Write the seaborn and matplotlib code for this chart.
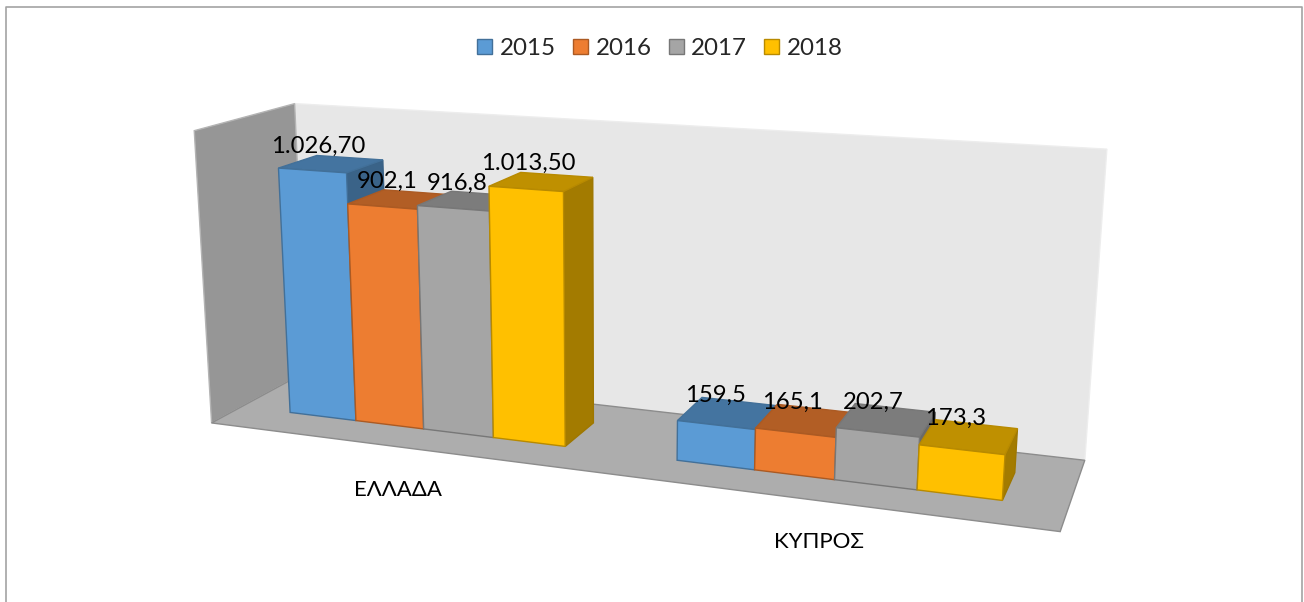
# 3D-looking clustered columns (Excel style), drawn with seaborn through a perspective transform
import numpy as np
import pandas as pd
import matplotlib
matplotlib.use('Agg')
import matplotlib.pyplot as plt
import seaborn as sns
from matplotlib.colors import to_rgb
from matplotlib.lines import Line2D
from matplotlib.patches import Polygon
from matplotlib.transforms import Affine2D, Transform

# ── DATA ──────────────────────────────────────────────────────────────────────
regions = ['ΕΛΛΑΔΑ', 'ΚΥΠΡΟΣ']
years = ['2015', '2016', '2017', '2018']
greece = [1026.7, 902.1, 916.8, 1013.5]
cyprus = [159.5, 165.1, 202.7, 173.3]
greece_labels = ['1.026,70', '902,1', '916,8', '1.013,50']
cyprus_labels = ['159,5', '165,1', '202,7', '173,3']
colors = ['#5B9BD5', '#ED7D31', '#A5A5A5', '#FFC000']

# ── GEOMETRY / STYLE ──────────────────────────────────────────────────────────
W, H = 1304, 602
AXIS_MAX = 1200
BAR_WIDTH = 4 / 5.5          # gap width 150%
DEPTH_FRONT, DEPTH_BACK = 0.3, 0.7
LABEL_OFFSET = (-13, -18)
half = BAR_WIDTH / 2

# camera calibration: chart box corners and bar corners (world x, depth, z) -> picture px
calibration = [
    ((-0.5, 0, 0), (213, 423)), ((1.5, 0, 0), (1061, 532)),
    ((1.5, 1, 0), (1085, 459)), ((-0.5, 1, 0), (302, 371)),
    ((-0.5, 0, 1), (192, 130)), ((-0.5, 1, 1), (298, 105)), ((1.5, 1, 1), (1107, 148)),
    ((-half, DEPTH_FRONT, 0), (292, 412)), ((half, DEPTH_FRONT, 0), (566, 446)),
    ((1 - half, DEPTH_FRONT, 0), (677, 459)), ((1 + half, DEPTH_FRONT, 0), (1002, 500)),
    ((half, DEPTH_BACK, 0), (596, 423)), ((1 + half, DEPTH_BACK, 0), (1014, 475)),
    ((-half, DEPTH_FRONT, greece[0] / AXIS_MAX), (278, 168)),
    ((half, DEPTH_FRONT, greece[3] / AXIS_MAX), (562, 192)),
    ((half, DEPTH_BACK, greece[3] / AXIS_MAX), (593, 177)),
    ((1 - half, DEPTH_FRONT, cyprus[0] / AXIS_MAX), (677, 422)),
    ((1 + half, DEPTH_FRONT, cyprus[3] / AXIS_MAX), (1004, 455)),
]


def fit_camera(pairs):
    """Least squares fit of a 3x4 projection matrix."""
    rows, rhs = [], []
    for (x, y, z), (u, v) in pairs:
        rows.append([x, y, z, 1, 0, 0, 0, 0, -u * x, -u * y, -u * z])
        rows.append([0, 0, 0, 0, x, y, z, 1, -v * x, -v * y, -v * z])
        rhs += [u, v]
    p = np.linalg.lstsq(np.array(rows, float), np.array(rhs, float), rcond=None)[0]
    return np.append(p, 1).reshape(3, 4)


CAMERA = fit_camera(calibration)


def project(x, depth, value):
    """World position (category x, depth, value) to picture pixels."""
    pts = np.column_stack([x, depth, np.asarray(value) / AXIS_MAX, np.ones_like(x)])
    out = pts @ CAMERA.T
    return out[:, :2] / out[:, 2:3]


class FrontPlane(Transform):
    """Maps the bars' (x, value) data onto their front plane in the picture."""
    input_dims = 2
    output_dims = 2
    is_affine = False
    has_inverse = False

    def transform_non_affine(self, values):
        values = np.asarray(values, float)
        return project(values[:, 0], np.full(len(values), DEPTH_FRONT), values[:, 1])


def shade(color, factor):
    return tuple(c * factor for c in to_rgb(color))


# ── BARS ──────────────────────────────────────────────────────────────────────
df = pd.DataFrame({
    'region': np.repeat(regions, len(years)),
    'year': years * len(regions),
    'value': greece + cyprus,
    'label': greece_labels + cyprus_labels,
})

sns.set_theme(style='white')
plt.rcParams['font.family'] = ['Lato', 'Open Sans', 'DejaVu Sans']

fig = plt.figure(figsize=(W / 100, H / 100), dpi=100)
ax = fig.add_axes([0, 0, 1, 1])
sns.barplot(data=df, x='region', y='value', hue='year', palette=colors,
            width=BAR_WIDTH, gap=0, saturation=1, errorbar=None, ax=ax)
ax.set_axis_off()

# picture pixels (y down) to figure
pix = Affine2D().scale(1 / W, -1 / H).translate(0, 1) + fig.transFigure
front_tf = FrontPlane() + pix


def face(corners, facecolor, edgecolor, zorder, lw=1.0):
    xs, ds, vs = np.array(corners, float).T
    ax.add_patch(Polygon(project(xs, ds, vs), closed=True, facecolor=facecolor,
                         edgecolor=edgecolor, linewidth=lw, transform=pix,
                         clip_on=False, zorder=zorder))


# ── WALLS AND FLOOR ───────────────────────────────────────────────────────────
face([(-0.5, 0, 0), (-0.5, 1, 0), (-0.5, 1, AXIS_MAX), (-0.5, 0, AXIS_MAX)], '#969696', '#B4B4B4', 0.2)
face([(-0.5, 1, 0), (1.5, 1, 0), (1.5, 1, AXIS_MAX), (-0.5, 1, AXIS_MAX)], '#E7E7E7', '#EDEDED', 0.1)
face([(-0.5, 0, 0), (1.5, 0, 0), (1.5, 1, 0), (-0.5, 1, 0)], '#ADADAD', '#8C8C8C', 0.3)

# ── 3D FACES, painted left to right ───────────────────────────────────────────
# containers run year by year, with one bar per region in each
bars = []
for y, (color, container) in enumerate(zip(colors, ax.containers)):
    for r, bar in enumerate(container):
        bars.append((bar, color, df['label'].iloc[r * len(years) + y]))
bars.sort(key=lambda item: item[0].get_x())

for i, (bar, color, label) in enumerate(bars):
    x0, x1, v = bar.get_x(), bar.get_x() + bar.get_width(), bar.get_height()
    base = 2 + i * 3
    face([(x1, DEPTH_FRONT, 0), (x1, DEPTH_BACK, 0), (x1, DEPTH_BACK, v), (x1, DEPTH_FRONT, v)],
         shade(color, 0.64), shade(color, 0.62), base)
    face([(x0, DEPTH_FRONT, v), (x1, DEPTH_FRONT, v), (x1, DEPTH_BACK, v), (x0, DEPTH_BACK, v)],
         shade(color, 0.75), shade(color, 0.72), base + 1)
    bar.set_transform(front_tf)
    bar.set_clip_on(False)
    bar.set_edgecolor(shade(color, 0.72))
    bar.set_linewidth(1.0)
    bar.set_zorder(base + 2)

    px, py = project(np.array([(x0 + x1) / 2]), np.array([(DEPTH_FRONT + DEPTH_BACK) / 2]), np.array([v]))[0]
    ax.text(px + LABEL_OFFSET[0], py + LABEL_OFFSET[1], label, transform=pix,
            ha='center', va='center', fontsize=17.2, color='black', zorder=60)

# ── CATEGORY LABELS ───────────────────────────────────────────────────────────
for name, (px, py) in zip(regions, [(398, 489.5), (819, 541.5)]):
    ax.text(px, py, name, transform=pix, ha='center', va='center',
            fontsize=16, color='black', zorder=60)

# ── LEGEND ────────────────────────────────────────────────────────────────────
sns.move_legend(ax, 'center', bbox_to_anchor=(660 / W, 1 - 48.5 / H), ncol=4, frameon=False,
                title=None, fontsize=17.4, handlelength=0.62, handleheight=0.62,
                handletextpad=0.3, columnspacing=0.72, borderpad=0)
for handle, color in zip(ax.legend_.get_patches(), colors):
    handle.set_edgecolor(shade(color, 0.72))
    handle.set_linewidth(1.0)
ax.legend_.set_zorder(70)

# ── OUTER BORDER (open at the bottom) ─────────────────────────────────────────
border_x = [6, 6, 1302, 1302]
border_y = [H, 7, 7, H]
fig.add_artist(Line2D(border_x, border_y, color='#A3A3A3', linewidth=1.2, transform=pix))

fig.savefig('out.png', dpi=100)
